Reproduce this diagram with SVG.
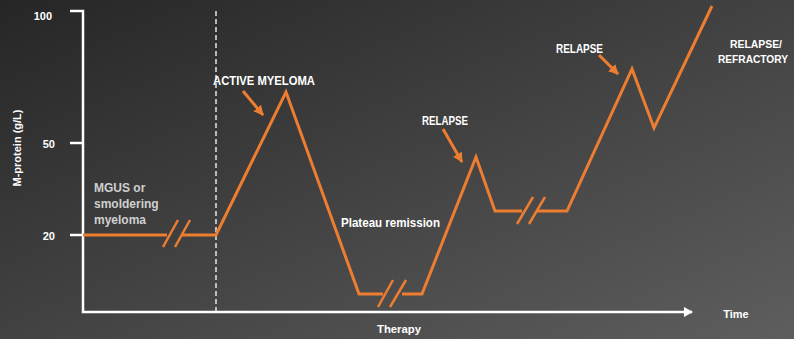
<svg xmlns="http://www.w3.org/2000/svg" width="794" height="339" viewBox="0 0 794 339">
<defs>
<linearGradient id="bg" x1="0" y1="0" x2="1" y2="1">
<stop offset="0" stop-color="#262626"/>
<stop offset="1" stop-color="#5e5e5e"/>
</linearGradient>
<marker id="axArrow" markerWidth="10" markerHeight="10" refX="8" refY="5" orient="auto" markerUnits="userSpaceOnUse">
<path d="M0,0 L9,5 L0,10 Z" fill="#ffffff"/>
</marker>
<marker id="orArrow" markerWidth="12" markerHeight="12" refX="9" refY="6" orient="auto" markerUnits="userSpaceOnUse">
<path d="M0,1 L10,6 L0,11 Z" fill="#ED7D31"/>
</marker>
<style>
.t{font-family:"Liberation Sans",Arial,sans-serif;font-weight:bold;fill:#ffffff;}
.g{font-family:"Liberation Sans",Arial,sans-serif;font-weight:bold;fill:#d0d0d0;}
.ax{stroke:#ffffff;stroke-width:2.5;fill:none;}
.curve{stroke:#ED7D31;stroke-width:3;fill:none;stroke-linejoin:miter;}
.brk{stroke:#ED7D31;stroke-width:2.5;}
.pt{stroke:#ED7D31;stroke-width:3;}
</style>
</defs>
<rect width="794" height="339" fill="url(#bg)"/>

<g id="axes">
<path class="ax" d="M70,11 H83 V312 H692" marker-end="url(#axArrow)"/>
<line class="ax" x1="70" y1="143" x2="83" y2="143"/>
<line class="ax" x1="70" y1="235" x2="83" y2="235"/>
<line x1="216" y1="11" x2="216" y2="312" stroke="#ffffff" stroke-width="1.3" stroke-dasharray="5,3"/>
<text class="t" x="52" y="20" font-size="11" text-anchor="end">100</text>
<text class="t" x="55" y="148" font-size="11" text-anchor="end">50</text>
<text class="t" x="55" y="240" font-size="11" text-anchor="end">20</text>
<text class="t" font-size="11" text-anchor="middle" transform="translate(21,148) rotate(-90)">M-protein (g/L)</text>
<text class="t" x="736" y="318" font-size="11" text-anchor="middle">Time</text>
<text class="t" x="399" y="333" font-size="11" text-anchor="middle" textLength="44" lengthAdjust="spacingAndGlyphs">Therapy</text>
</g>

<g id="connectors">
<polyline class="curve" points="83,235 167,235"/>
<polyline class="curve" points="182,235 216,235 286,92 359,294 383,294"/>
<polyline class="curve" points="402,294 422,294 476,157 495,211 522,211"/>
<polyline class="curve" points="537,211 567,211 632,69 654,128 712,6"/>
<line class="brk" x1="163" y1="247" x2="178" y2="220"/>
<line class="brk" x1="175" y1="247" x2="190" y2="220"/>
<line class="brk" x1="378" y1="307" x2="393" y2="280"/>
<line class="brk" x1="390" y1="307" x2="406" y2="280"/>
<line class="brk" x1="517" y1="224" x2="533" y2="197"/>
<line class="brk" x1="529" y1="224" x2="545" y2="197"/>
<line class="pt" x1="243" y1="91" x2="263" y2="115" marker-end="url(#orArrow)"/>
<line class="pt" x1="443" y1="129" x2="462" y2="162" marker-end="url(#orArrow)"/>
<line class="pt" x1="599" y1="55" x2="618" y2="74" marker-end="url(#orArrow)"/>
</g>

<g id="label-mgus">
<text class="g" font-size="12"><tspan x="94" y="192">MGUS or</tspan><tspan x="94" y="208">smoldering</tspan><tspan x="94" y="224">myeloma</tspan></text>
</g>
<g id="label-active">
<text class="t" x="213" y="85" font-size="12" textLength="102" lengthAdjust="spacingAndGlyphs">ACTIVE MYELOMA</text>
</g>
<g id="label-plateau">
<text class="t" x="341" y="227" font-size="12" textLength="99" lengthAdjust="spacingAndGlyphs">Plateau remission</text>
</g>
<g id="label-relapse1">
<text class="t" x="422" y="125" font-size="12" textLength="46" lengthAdjust="spacingAndGlyphs">RELAPSE</text>
</g>
<g id="label-relapse2">
<text class="t" x="556" y="53" font-size="12" textLength="47" lengthAdjust="spacingAndGlyphs">RELAPSE</text>
</g>
<g id="label-refractory">
<text class="t" font-size="10.5"><tspan x="730" y="48" textLength="52" lengthAdjust="spacingAndGlyphs">RELAPSE/</tspan><tspan x="718" y="63" textLength="70" lengthAdjust="spacingAndGlyphs">REFRACTORY</tspan></text>
</g>
</svg>
